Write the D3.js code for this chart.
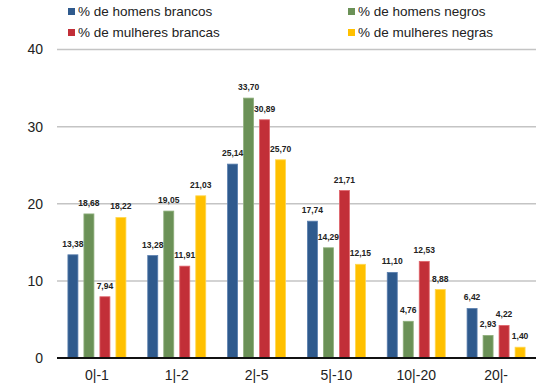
<!DOCTYPE html>
<html lang="pt">
  <head>
    <meta charset="UTF-8" />
    <title>Distribuição por faixa</title>
    <script src="https://d3js.org/d3.v7.min.js"></script>
    <style>
      body {
        margin: 0;
        background: #fff;
        font-family: "Liberation Sans", Arial, sans-serif;
      }
      .tick-label {
        font-size: 14px;
        fill: #222;
      }
      .legend-text {
        font-size: 13.5px;
        fill: #222;
      }
      .value {
        font-size: 8.5px;
        font-weight: bold;
        fill: #222;
      }
    </style>
  </head>
  <body>
    <svg id="chart" width="560" height="385"></svg>
    <script>
      // categories and series
      let categories = ["0|-1", "1|-2", "2|-5", "5|-10", "10|-20", "20|-"];
      let series = [
        "% de homens brancos",
        "% de homens negros",
        "% de mulheres brancas",
        "% de mulheres negras",
      ];
      let homensBrancos = [13.38, 13.28, 25.14, 17.74, 11.1, 6.42];
      let homensNegros = [18.68, 19.05, 33.7, 14.29, 4.76, 2.93];
      let mulheresBrancas = [7.94, 11.91, 30.89, 21.71, 12.53, 4.22];
      let mulheresNegras = [18.22, 21.03, 25.7, 12.15, 8.88, 1.4];
      let yTicks = [0, 10, 20, 30, 40];

      let colors = ["#2f5a8d", "#6b9157", "#c22f38", "#ffc000"];
      let strokes = ["#5a7fae", "#8fb07c", "#e0646b", "#ffd850"];
      let values = [homensBrancos, homensNegros, mulheresBrancas, mulheresNegras];

      let svg = d3.select("#chart");
      let plotLeft = 57,
        plotRight = 536,
        plotTop = 49.5,
        plotBottom = 358;

      let y = d3.scaleLinear().domain([0, 40]).range([plotBottom, plotTop]);
      let x0 = d3.scaleBand().domain(categories).range([plotLeft, plotRight]);
      let half = 32;
      let x1 = d3
        .scaleBand()
        .domain(series)
        .range([x0.bandwidth() / 2 - half, x0.bandwidth() / 2 + half])
        .paddingInner(0.375)
        .paddingOuter(0.1875);

      // gridlines
      svg
        .append("g")
        .selectAll("line")
        .data(yTicks.filter((d) => d > 0))
        .join("line")
        .attr("x1", plotLeft)
        .attr("x2", plotRight)
        .attr("y1", (d) => y(d))
        .attr("y2", (d) => y(d))
        .attr("stroke", "#c4c4c4")
        .attr("stroke-width", 1.5);

      // y tick labels
      svg
        .append("g")
        .selectAll("text")
        .data(yTicks)
        .join("text")
        .attr("class", "tick-label")
        .attr("x", 43)
        .attr("y", (d) => y(d))
        .attr("dy", "0.35em")
        .attr("text-anchor", "end")
        .text((d) => d);

      // bars
      let groups = svg
        .append("g")
        .selectAll("g")
        .data(categories)
        .join("g")
        .attr("transform", (d) => `translate(${x0(d)},0)`);

      groups
        .selectAll("rect")
        .data((d, i) => series.map((s, j) => ({ s: s, j: j, v: values[j][i] })))
        .join("rect")
        .attr("x", (d) => x1(d.s))
        .attr("width", x1.bandwidth())
        .attr("y", (d) => y(d.v))
        .attr("height", (d) => plotBottom - y(d.v))
        .attr("fill", (d) => colors[d.j])
        .attr("stroke", (d) => strokes[d.j])
        .attr("stroke-width", 0.8);

      groups
        .selectAll("text")
        .data((d, i) => series.map((s, j) => ({ s: s, j: j, v: values[j][i] })))
        .join("text")
        .attr("class", "value")
        .attr("x", (d) => x1(d.s) + x1.bandwidth() / 2)
        .attr("y", (d) => y(d.v) - 8)
        .attr("text-anchor", "middle")
        .text((d) => d3.format(".2f")(d.v).replace(".", ","));

      // baseline
      svg
        .append("line")
        .attr("x1", plotLeft)
        .attr("x2", plotRight)
        .attr("y1", plotBottom)
        .attr("y2", plotBottom)
        .attr("stroke", "#111")
        .attr("stroke-width", 2);

      // category labels
      svg
        .append("g")
        .selectAll("text")
        .data(categories)
        .join("text")
        .attr("class", "tick-label")
        .attr("x", (d) => x0(d) + x0.bandwidth() / 2)
        .attr("y", 375)
        .attr("dy", "0.35em")
        .attr("text-anchor", "middle")
        .text((d) => d);

      // legend
      let legendPos = [
        [68, 11],
        [348, 11],
        [68, 32],
        [348, 32],
      ];
      let legend = svg
        .append("g")
        .selectAll("g")
        .data(series)
        .join("g")
        .attr("transform", (d, i) => `translate(${legendPos[i][0]},${legendPos[i][1]})`);
      legend
        .append("rect")
        .attr("x", 0)
        .attr("y", -3)
        .attr("width", 7)
        .attr("height", 7)
        .attr("fill", (d, i) => colors[i]);
      legend
        .append("text")
        .attr("class", "legend-text")
        .attr("x", 10)
        .attr("y", 0)
        .attr("dy", "0.35em")
        .text((d) => d);
    </script>
  </body>
</html>
